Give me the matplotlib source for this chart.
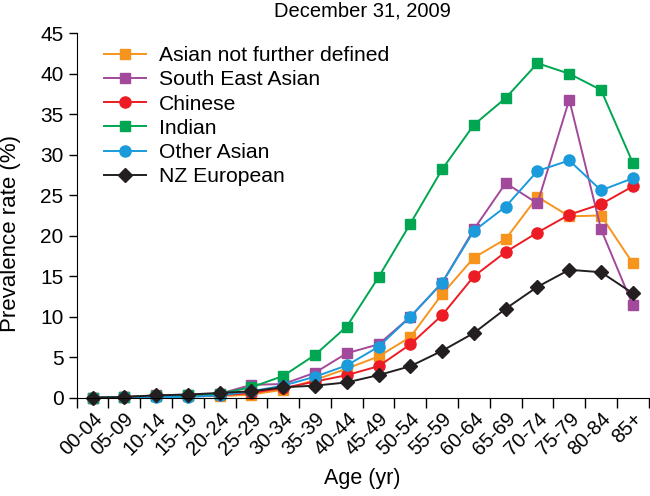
import matplotlib
matplotlib.use('Agg')
import matplotlib.pyplot as plt
import numpy as np

plt.rcParams['font.family'] = ['Liberation Sans', 'DejaVu Sans']

ages = ['00-04', '05-09', '10-14', '15-19', '20-24', '25-29', '30-34', '35-39',
        '40-44', '45-49', '50-54', '55-59', '60-64', '65-69', '70-74', '75-79',
        '80-84', '85+']

asian_nfd = [0, 0.1, 0.2, 0.2, 0.2, 0.4, 1.0, 2.2, 3.6, 5.1, 7.5, 12.8, 17.3, 19.6, 24.8, 22.4, 22.5, 16.6]
se_asian = [0, 0.1, 0.3, 0.4, 0.5, 1.6, 1.7, 3.1, 5.5, 6.6, 10.0, 14.2, 20.8, 26.5, 24.0, 36.8, 20.8, 11.4]
chinese = [0, 0.1, 0.2, 0.2, 0.3, 0.6, 1.2, 2.0, 2.8, 3.9, 6.6, 10.2, 15.0, 18.0, 20.4, 22.6, 23.9, 26.1]
indian = [0, 0.1, 0.2, 0.3, 0.5, 1.3, 2.7, 5.3, 8.8, 14.9, 21.5, 28.2, 33.7, 37.0, 41.3, 40.0, 38.0, 29.0]
other_asian = [0, 0.1, 0.1, 0.1, 0.3, 0.8, 1.5, 2.6, 4.0, 6.3, 10.0, 14.2, 20.6, 23.6, 28.0, 29.3, 25.6, 27.1]
nz_european = [0, 0.1, 0.3, 0.4, 0.6, 0.8, 1.3, 1.5, 1.9, 2.8, 3.9, 5.8, 8.0, 11.0, 13.7, 15.8, 15.5, 12.9]

series = [
    ('Asian not further defined', asian_nfd, '#F7941D', 's', 7),
    ('South East Asian', se_asian, '#A3499B', 's', 7),
    ('Chinese', chinese, '#ED1C24', 'o', 8),
    ('Indian', indian, '#00A651', 's', 7),
    ('Other Asian', other_asian, '#1B9BDB', 'o', 8),
    ('NZ European', nz_european, '#231F20', 'D', 7),
]

fig = plt.figure(figsize=(6.5, 4.96), dpi=100)
ax = fig.add_axes([0.118, 0.198, 0.88, 0.735])

x = np.arange(len(ages))
for name, vals, col, mk, ms in series:
    ax.plot(x, vals, color=col, marker=mk, markersize=ms, linewidth=1.4,
            label=name, clip_on=False)

ax.set_xlim(-0.5, len(ages) - 0.5)
ax.set_ylim(0, 45)
ax.set_yticks(range(0, 46, 5))
ax.set_xticks(x)
ax.set_xticklabels(ages, rotation=45, ha='right', rotation_mode='anchor')
ax.set_xticks(np.arange(-0.5, len(ages), 1), minor=True)
ax.tick_params(axis='x', which='major', length=0, pad=8, labelsize=14.5)
ax.tick_params(axis='x', which='minor', length=7, width=1, direction='out')
ax.tick_params(axis='y', length=6, width=1, direction='out', labelsize=15)

for s in ['top', 'right']:
    ax.spines[s].set_visible(False)

ax.set_xlabel('Age (yr)', fontsize=15.5, labelpad=7)
ax.set_ylabel('Prevalence rate (%)', fontsize=16)
ax.yaxis.set_label_coords(-0.097, 0.45)
ax.set_title('December 31, 2009', fontsize=14.5, pad=12)

ax.legend(loc='upper left', bbox_to_anchor=(0.048, 0.965), frameon=False,
          fontsize=15.2, handlelength=2.0, handletextpad=0.6, labelspacing=0.25,
          borderaxespad=0, borderpad=0)

fig.savefig('out.png', dpi=100)
